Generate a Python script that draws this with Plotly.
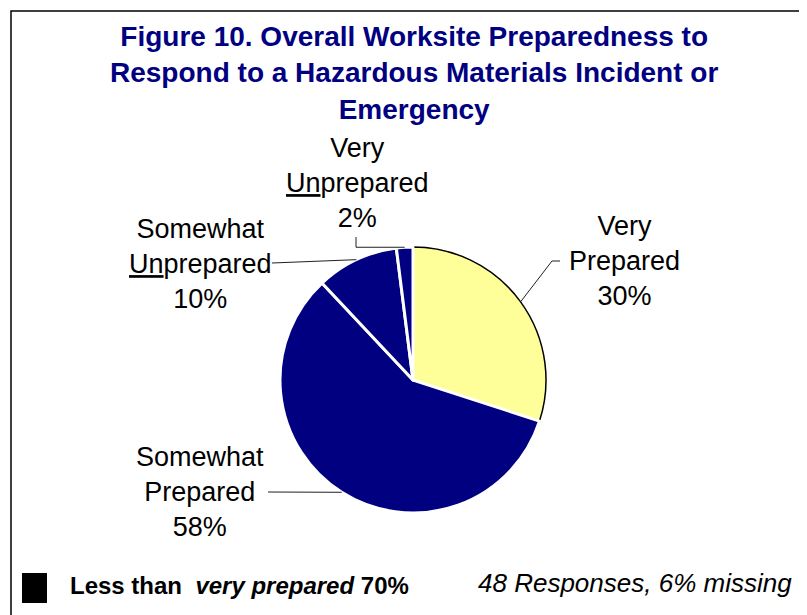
import math
import plotly.graph_objects as go

# ---- data ----
categories = ["Very Prepared", "Somewhat Prepared", "Somewhat Unprepared", "Very Unprepared"]
label_texts = ["Very<br>Prepared<br>30%", "Somewhat<br>Prepared<br>58%",
               "Somewhat<br><u>Un</u>prepared<br>10%", "Very<br><u>Un</u>prepared<br>2%"]
values = [30, 58, 10, 2]
colors = ["#FFFF99", "#000080", "#000080", "#000080"]
title_text = "<b>Figure 10. Overall Worksite Preparedness to<br>Respond to a Hazardous Materials Incident or<br>Emergency</b>"
footer_left = "<b>Less than  <i>very prepared</i> 70%</b>"
footer_right = "<i>48 Responses, 6% missing</i>"

W, H = 807, 615
OFF = 8  # page body margin
FONT = "Arial, Liberation Sans, sans-serif"

def px(x):
    return (x - OFF) / W

def py(y):
    return 1 - (y - OFF) / H

# pie geometry (window pixels)
CX, CY, R = 413, 380, 133

fig = go.Figure()
fig.add_trace(go.Pie(
    labels=categories, values=values, sort=False, direction="clockwise", rotation=0,
    marker=dict(colors=colors, line=dict(color=["black", "white", "white", "white"], width=[1.5, 3, 3, 3])),
    textinfo="none", hoverinfo="label+percent", showlegend=False,
    domain=dict(x=[px(CX - R), px(CX + R)], y=[py(CY + R), py(CY - R)]),
))

# slice mid-angle points on the circle, from the data
total = sum(values)
mids = []
cum = 0
for v in values:
    a = (cum + v / 2) / total * 2 * math.pi
    mids.append((CX + R * math.sin(a), CY - R * math.cos(a)))
    cum += v

label_pos = [(624, 261), (200, 492), (200, 264), (357, 183)]
shapes = []
x0, y0 = mids[0]
shapes.append(dict(type="path", path=f"M {px(560)} {py(261)} L {px(552)} {py(261)} L {px(x0)} {py(y0)}"))
x1, y1 = mids[1]
shapes.append(dict(type="path", path=f"M {px(268)} {py(492)} L {px(x1)} {py(y1)}"))
x2, y2 = mids[2]
shapes.append(dict(type="path", path=f"M {px(272)} {py(263)} L {px(x2)} {py(y2)}"))
x3, y3 = mids[3]
shapes.append(dict(type="path", path=f"M {px(356)} {py(237)} L {px(356)} {py(y3)} L {px(x3)} {py(y3)}"))
for s in shapes:
    s.update(xref="paper", yref="paper", line=dict(color="#202020", width=1))

# outer frame (left & top visible)
shapes.append(dict(type="rect", xref="paper", yref="paper", x0=px(11), x1=px(W + 40), y0=py(H + 40), y1=py(11),
                   line=dict(color="black", width=1.5)))
# legend square
shapes.append(dict(type="rect", xref="paper", yref="paper", x0=px(22), x1=px(47), y0=py(603), y1=py(573),
                   fillcolor="black", line=dict(width=0)))

annotations = []
for t, (lx, ly) in zip(label_texts, label_pos):
    annotations.append(dict(text=t, x=px(lx), y=py(ly), xref="paper", yref="paper", showarrow=False,
                            xanchor="center", yanchor="middle", align="center",
                            font=dict(family=FONT, size=27, color="black")))
annotations.append(dict(text=title_text, x=px(414), y=py(73), xref="paper", yref="paper", showarrow=False,
                        xanchor="center", yanchor="middle", align="center",
                        font=dict(family=FONT, size=28, color="#000080")))
annotations.append(dict(text=footer_left, x=px(68), y=py(585), xref="paper", yref="paper", showarrow=False,
                        xanchor="left", yanchor="middle", font=dict(family=FONT, size=24, color="black")))
annotations.append(dict(text=footer_right, x=px(476), y=py(583), xref="paper", yref="paper", showarrow=False,
                        xanchor="left", yanchor="middle", font=dict(family=FONT, size=26, color="black")))

fig.update_layout(
    width=W, height=H, margin=dict(l=0, r=0, t=0, b=0),
    paper_bgcolor="white", plot_bgcolor="white",
    shapes=shapes, annotations=annotations,
)
fig.write_html("out.html")
